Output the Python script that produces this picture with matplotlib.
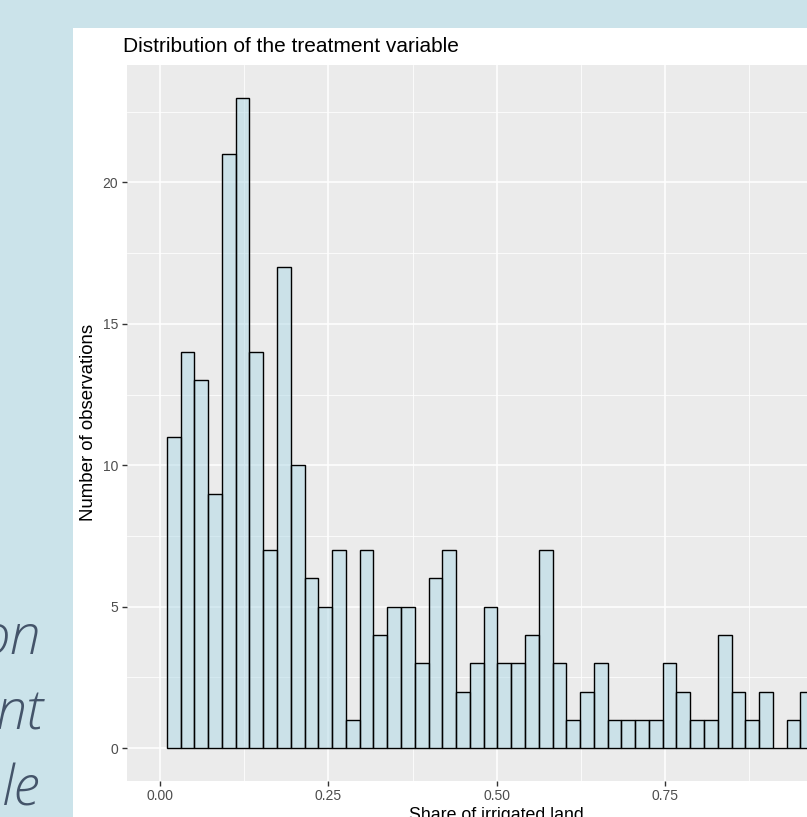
import numpy as np
import matplotlib
matplotlib.use('Agg')
import matplotlib.pyplot as plt
from matplotlib.colors import to_rgba
from matplotlib.patches import Rectangle

# histogram counts (bins cut off at the right edge are left out)
counts = [11, 14, 13, 9, 21, 23, 14, 7, 17, 10, 6, 5, 7, 1, 7, 4, 5, 5, 3, 6,
          7, 2, 3, 5, 3, 3, 4, 7, 3, 1, 2, 3, 1, 1, 1, 1, 3, 2, 1, 1,
          4, 2, 1, 2, 0, 1, 2]
first_edge = 0.0099
bin_width = 0.020455

x_ticks = [0.0, 0.25, 0.50, 0.75, 1.00]
x_ticklabels = ['0.00', '0.25', '0.50', '0.75', '1.00']
y_ticks = [0, 5, 10, 15, 20]

title = 'Distribution of the treatment variable'
xlabel = 'Share of irrigated land'
ylabel = 'Number of observations'
slide_bits = ['on', 'nt', 'le']

W, H = 807, 817
fig = plt.figure(figsize=(W / 100, H / 100), dpi=100)
fig.patch.set_facecolor('#CBE3EA')

# white picture pasted on the slide
fig.patches.append(Rectangle((73 / W, 0), 1, 1 - 28 / H, transform=fig.transFigure,
                             facecolor='white', edgecolor='none', zorder=-5))

# slide title fragments on the left
for txt, xr, yb in zip(slide_bits, [41, 44, 40], [653, 730, 805]):
    fig.text(xr / W, 1 - yb / H, txt, ha='right', va='baseline',
             family='Open Sans', style='italic', weight='light',
             fontsize=40, color='#44546A')

left, right, top, bottom = 126.7, 867, 65, 780.7
ax = fig.add_axes([left / W, 1 - bottom / H, (right - left) / W, (bottom - top) / H])
ax.set_facecolor('#EBEBEB')

lefts = first_edge + bin_width * np.arange(len(counts))
ax.bar(lefts, counts, width=bin_width, align='edge',
       color=to_rgba('lightblue', 0.5), edgecolor='black', linewidth=1.0, zorder=3)

ax.set_xlim(-0.0496, 1.0496)
ax.set_ylim(-1.15, 24.15)

ax.set_xticks(x_ticks)
ax.set_xticklabels(x_ticklabels)
ax.set_yticks(y_ticks)
ax.set_xticks([0.125, 0.375, 0.625, 0.875], minor=True)
ax.set_yticks([2.5, 7.5, 12.5, 17.5, 22.5], minor=True)

ax.grid(which='major', color='white', linewidth=1.1)
ax.grid(which='minor', color='white', linewidth=0.55)
ax.set_axisbelow(True)
for s in ax.spines.values():
    s.set_visible(False)

ax.tick_params(which='major', length=3.6, width=1.0, color='#333333',
               labelsize=10, labelcolor='#4D4D4D', pad=2.4)
ax.tick_params(which='minor', length=0)
for lab in ax.get_xticklabels() + ax.get_yticklabels():
    lab.set_family('Liberation Sans')

ax.set_xlabel(xlabel, family='Liberation Sans', fontsize=12.8, color='black')
ax.xaxis.set_label_coords(0.5, -0.037)
ax.set_ylabel(ylabel, family='Liberation Sans', fontsize=13.4, color='black')
ax.yaxis.set_label_coords(-0.0397, 0.5)

fig.text(123 / W, 1 - 51.7 / H, title, ha='left', va='baseline',
         family='Liberation Sans', fontsize=15, color='black')

fig.savefig('out.png', dpi=100)
